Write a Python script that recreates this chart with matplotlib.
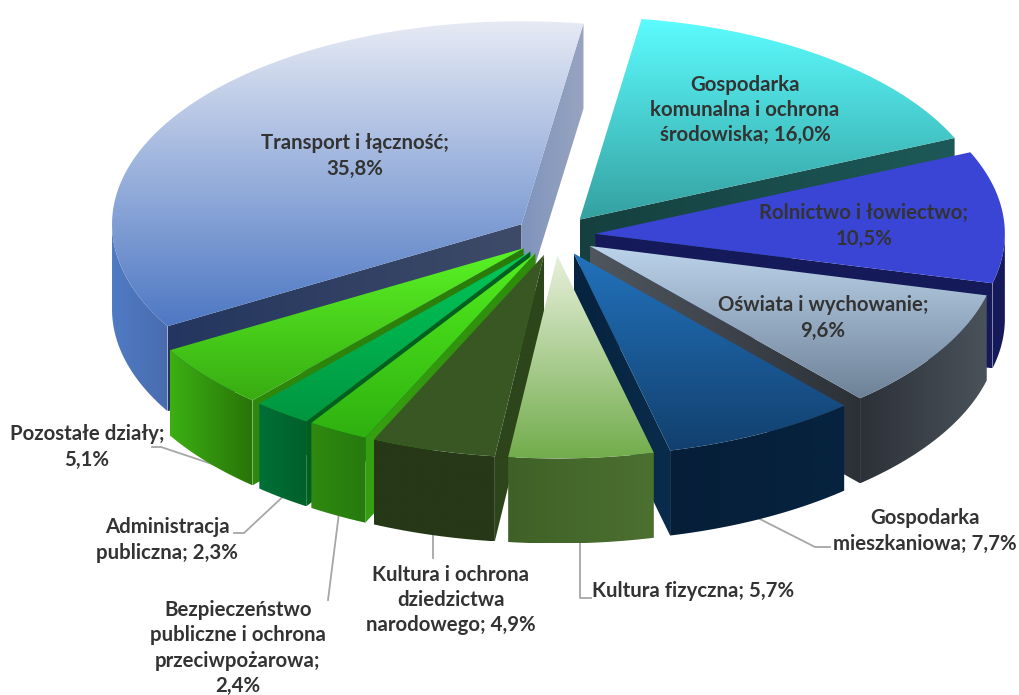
import numpy as np
import matplotlib
matplotlib.use("Agg")
import matplotlib.pyplot as plt
from matplotlib.patches import Polygon
from matplotlib.colors import to_rgb

plt.rcParams['font.family'] = ['Lato', 'DejaVu Sans']

values = [16.0, 10.5, 9.6, 7.7, 5.7, 4.9, 2.4, 2.3, 5.1, 35.8]
labels = ["Gospodarka\nkomunalna i ochrona\nśrodowiska; 16,0%",
          "Rolnictwo i łowiectwo;\n10,5%",
          "Oświata i wychowanie;\n9,6%",
          "Gospodarka\nmieszkaniowa; 7,7%",
          "Kultura fizyczna; 5,7%",
          "Kultura i ochrona\ndziedzictwa\nnarodowego; 4,9%",
          "Bezpieczeństwo\npubliczne i ochrona\nprzeciwpożarowa;\n2,4%",
          "Administracja\npubliczna; 2,3%",
          "Pozostałe działy;\n5,1%",
          "Transport i łączność;\n35,8%"]
label_x = [745, 864, 823, 925, 693, 451, 238, 167, 87, 355]
label_y = [110, 226, 318, 531, 591, 600, 648, 540, 447, 156]

# top face gradient (from, to, direction in degrees, 90 = downwards)
top_from = ['#5CFCFF', '#3A45D5', '#BCD4EC', '#2272BC', '#E8F0DC', '#385723',
            '#52EE1E', '#00C85A', '#5AF525', '#E6EAF4']
top_to = ['#35A0A0', '#3A45D5', '#6E8297', '#12406E', '#72AD4C', '#385723',
          '#2FB010', '#009640', '#38AC12', '#4E78C4']
top_dir = [90, 90, 90, 90, 90, 90, 90, 90, 90, 90]
# outer wall, left to right
outer_l = ['#174A4A', '#151A5A', '#2C3138', '#061E38', '#3F6128', '#263817',
           '#2F8A10', '#007038', '#3CB012', '#4F7BC4']
outer_r = ['#174A4A', '#151A5A', '#4A525A', '#06233F', '#4C7030', '#263817',
           '#267A0E', '#005F2A', '#287408', '#4A6CAE']
# cut walls, left to right
cut_l = ['#15403F', '#151A5A', '#50565E', '#06233F', '#3B5C2A', '#2D451A',
         '#37A012', '#006020', '#2E8A0C', '#24365F']
cut_r = ['#1D5958', '#151A5A', '#2C3138', '#0A2C4C', '#3B5C2A', '#2D451A',
         '#2E8A0C', '#006020', '#2A7A0A', '#3E4B68']
end_l = ['#15403F', '#151A5A', '#50565E', '#06233F', '#3B5C2A', '#2D451A',
         '#37A012', '#006020', '#2E8A0C', '#7F94BC']
end_r = ['#1D5958', '#151A5A', '#2C3138', '#0A2C4C', '#3B5C2A', '#2D451A',
         '#2E8A0C', '#006020', '#2A7A0A', '#98A4C0']

start_angle = 8.7
explode = 0.09
radius = 0.91
cx, cy = 555, 235.5
rx, ry = 450, 223
depth = 85

leaders = [([152, 161, 215], [447, 447, 465]),
           ([234, 244, 290], [533, 533, 490]),
           ([328, 340], [600, 505]),
           ([433, 433], [525, 558]),
           ([591, 580, 580], [598, 598, 535]),
           ([830, 815, 750], [547, 547, 514])]

fig = plt.figure(figsize=(10.2, 6.95), dpi=100)
ax = fig.add_axes([0, 0, 1, 1])


def grad_fill(pts, c0, c1, angle, zorder):
    pts = np.array(pts)
    d = np.radians(angle)
    x0, x1 = pts[:, 0].min(), pts[:, 0].max()
    y0, y1 = pts[:, 1].min(), pts[:, 1].max()
    gx, gy = np.meshgrid(np.linspace(x0, x1, 200), np.linspace(y0, y1, 200))
    t = gx * np.cos(d) + gy * np.sin(d)
    t = (t - t.min()) / max(t.max() - t.min(), 1e-6)
    t = t[..., None]
    rgb = np.array(to_rgb(c0)) * (1 - t) + np.array(to_rgb(c1)) * t
    poly = Polygon(pts, closed=True, transform=ax.transData, fc='none', ec='none')
    ax.add_patch(poly)
    im = ax.imshow(rgb, extent=[x0, x1, y1, y0], aspect='auto', zorder=zorder,
                   interpolation='bilinear')
    im.set_clip_path(poly)


# leader lines go under the slices
for lx, ly in leaders:
    ax.plot(lx, ly, color='#A6A6A6', lw=1.3, zorder=0)

edges = start_angle + np.cumsum([0] + values) * 3.6
mids = (edges[:-1] + edges[1:]) / 2
order = np.argsort(-np.cos(np.radians(mids)))

z = 1
for i in order:
    t1, t2 = edges[i], edges[i + 1]
    ax0 = cx + rx * explode * np.sin(np.radians(mids[i]))
    ay0 = cy - ry * explode * np.cos(np.radians(mids[i]))

    def rim(th):
        th = np.radians(th)
        return ax0 + rx * radius * np.sin(th), ay0 - ry * radius * np.cos(th)

    # cut wall at the start of the slice, seen when sin < 0
    if np.sin(np.radians(t1)) < 0:
        x, y = rim(t1)
        grad_fill([(ax0, ay0), (x, y), (x, y + depth), (ax0, ay0 + depth)],
                  cut_l[i], cut_r[i], 0, z)
        z += 1
    # cut wall at the end of the slice, seen when sin > 0
    if np.sin(np.radians(t2)) > 0:
        x, y = rim(t2)
        grad_fill([(ax0, ay0), (x, y), (x, y + depth), (ax0, ay0 + depth)],
                  end_l[i], end_r[i], 0, z)
        z += 1
    # outer wall only on the front half
    a, b = max(t1, 90), min(t2, 270)
    if b > a:
        th = np.linspace(a, b, 60)
        x, y = rim(th)
        pts = list(zip(x, y)) + list(zip(x[::-1], y[::-1] + depth))
        grad_fill(pts, outer_l[i], outer_r[i], 0, z)
        z += 1
    # top face
    th = np.linspace(t1, t2, 120)
    x, y = rim(th)
    grad_fill([(ax0, ay0)] + list(zip(x, y)), top_from[i], top_to[i], top_dir[i], z)
    z += 1

for i in range(len(labels)):
    ax.text(label_x[i], label_y[i], labels[i], ha='center', va='center', color='#333333',
            fontsize=14.7, fontweight='bold', linespacing=1.34, zorder=z + 1)

ax.set_xlim(0, 1020)
ax.set_ylim(695, 0)
ax.axis('off')
fig.savefig('out.png', dpi=100)
